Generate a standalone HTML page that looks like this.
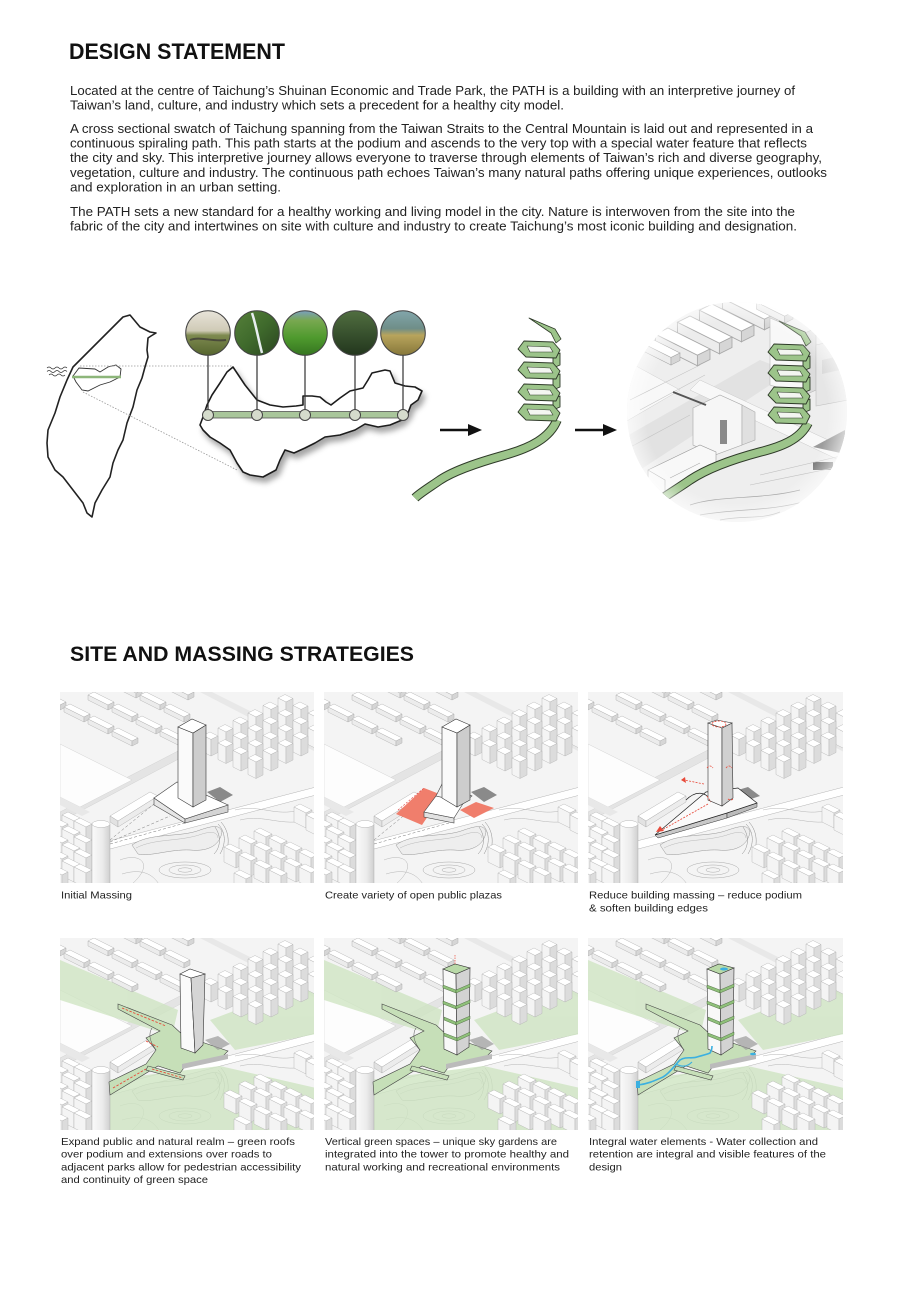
<!DOCTYPE html>
<html><head><meta charset="utf-8"><style>html,body{margin:0;padding:0;background:#fff;}svg{display:block;}</style></head>
<body>
<svg xmlns="http://www.w3.org/2000/svg" width="900" height="1300" viewBox="0 0 900 1300" font-family="'Liberation Sans', Arial, sans-serif">
<defs>
  <filter id="sh" x="-15%" y="-15%" width="140%" height="150%"><feDropShadow dx="3" dy="5" stdDeviation="3" flood-color="#000" flood-opacity=".35"/></filter>
  <linearGradient id="g1" x1="0" y1="0" x2="0" y2="1"><stop offset="0" stop-color="#e8e4da"/><stop offset=".45" stop-color="#cfcab6"/><stop offset=".55" stop-color="#7e8a50"/><stop offset="1" stop-color="#55652e"/></linearGradient>
  <linearGradient id="g2" x1="0" y1="0" x2="1" y2="1"><stop offset="0" stop-color="#56803a"/><stop offset=".5" stop-color="#3f6a2c"/><stop offset="1" stop-color="#2a4420"/></linearGradient>
  <linearGradient id="g3" x1="0" y1="0" x2="0" y2="1"><stop offset="0" stop-color="#7a9fc0"/><stop offset=".22" stop-color="#78a850"/><stop offset=".6" stop-color="#4f9a2e"/><stop offset="1" stop-color="#357520"/></linearGradient>
  <linearGradient id="g4" x1="0" y1="0" x2="0" y2="1"><stop offset="0" stop-color="#506e40"/><stop offset="1" stop-color="#22361d"/></linearGradient>
  <linearGradient id="g5" x1="0" y1="0" x2="0" y2="1"><stop offset="0" stop-color="#82a6ab"/><stop offset=".4" stop-color="#6f8e88"/><stop offset=".55" stop-color="#b8a45c"/><stop offset="1" stop-color="#86773a"/></linearGradient>
  <linearGradient id="cyl" x1="0" y1="0" x2="1" y2="0"><stop offset="0" stop-color="#fafafa"/><stop offset=".6" stop-color="#ebebeb"/><stop offset="1" stop-color="#cfcfcf"/></linearGradient>
  <radialGradient id="fade" cx="737" cy="412" r="111" gradientUnits="userSpaceOnUse"><stop offset=".82" stop-color="#fff" stop-opacity="0"/><stop offset="1" stop-color="#fff" stop-opacity=".6"/></radialGradient>
  <clipPath id="cc"><circle cx="737" cy="412" r="110"/></clipPath>

  <g id="lb" stroke="#a8a8a8" stroke-width=".4">
    <path d="M0,0 L20,10 L14,13 L-6,3Z" fill="#fff"/>
    <path d="M-6,3 L14,13 L14,18 L-6,8Z" fill="#ececec"/>
    <path d="M14,13 L20,10 L20,15 L14,18Z" fill="#d6d6d6"/>
  </g>
  <g id="tb" stroke="#b0b0b0" stroke-width=".4">
    <path d="M0,0 L8,4 L1,7.5 L-7,3.5Z" fill="#fff"/>
    <path d="M-7,3.5 L1,7.5 L1,24 L-7,20Z" fill="#f4f4f4"/>
    <path d="M1,7.5 L8,4 L8,20.5 L1,24Z" fill="#dcdcdc"/>
  </g>
  <g id="mb" stroke="#b0b0b0" stroke-width=".4">
    <path d="M0,0 L12,6 L6,9 L-6,3Z" fill="#fff"/>
    <path d="M-6,3 L6,9 L6,24 L-6,18Z" fill="#f4f4f4"/>
    <path d="M6,9 L12,6 L12,21 L6,24Z" fill="#dcdcdc"/>
  </g>

  <g id="cityBase">
    <rect width="256" height="194" fill="#f4f4f4"/>
    <polygon points="140,0 152,0 256,52 256,60" fill="#e8e8e8"/>
    <polygon points="0,120 120,58 128,62 0,130" fill="#e4e4e4" stroke="#cccccc" stroke-width=".4"/>
    <polygon points="0,52 72,88 20,115 0,105" fill="#fdfdfd" stroke="#d4d4d4" stroke-width=".5"/>
    <polygon points="45,150 256,95 256,103 50,157" fill="#fff" stroke="#b5b5b5" stroke-width=".5"/>
    <polygon points="0,105 30,120 22,124 0,113" fill="#e8e8e8"/>
    <path d="M72,153 C90,140 120,146 140,138 C152,134 160,132 162,140 C160,152 150,160 130,158 C110,157 90,165 78,162 Z" fill="#eeeeee" stroke="#959595" stroke-width=".5"/>
    <path d="M76,156 C95,146 120,150 142,142 C152,139 157,140 158,146" fill="none" stroke="#aaa" stroke-width=".4"/>
    <path d="M158,132 C166,140 166,152 160,162 M161,130 C170,140 170,154 164,165 M155,135 C162,145 160,156 154,162" fill="none" stroke="#8c8c8c" stroke-width=".5"/>
    <ellipse cx="125" cy="178" rx="26" ry="8" fill="none" stroke="#aaa" stroke-width=".5"/>
    <ellipse cx="125" cy="178" rx="16" ry="5" fill="none" stroke="#aaa" stroke-width=".5"/>
    <ellipse cx="125" cy="178" rx="7" ry="2.2" fill="none" stroke="#aaa" stroke-width=".5"/>
    <path d="M60,168 C80,160 95,172 72,192 M175,118 C200,112 215,125 240,118 M180,128 C205,122 220,135 250,128 M62,182 C85,175 95,185 100,194" fill="none" stroke="#b5b5b5" stroke-width=".5"/>
  </g>

  <g id="cityBld">
    <use href="#lb" x="-14" y="0"/><use href="#lb" x="62" y="-12"/><use href="#lb" x="114" y="-10"/>
    <use href="#lb" x="34" y="0"/><use href="#lb" x="86" y="0"/>
    <use href="#lb" x="10" y="12"/><use href="#lb" x="58" y="12"/><use href="#lb" x="110" y="12"/>
    <use href="#lb" x="34" y="24"/><use href="#lb" x="82" y="24"/>
    <use href="#lb" x="58" y="36"/><use href="#lb" x="106" y="36"/>
    <use href="#tb" x="225" y="2.5"/><use href="#tb" x="210" y="10"/><use href="#tb" x="240" y="10"/>
    <use href="#tb" x="195" y="17.5"/><use href="#tb" x="225" y="17.5"/><use href="#tb" x="255" y="17.5"/>
    <use href="#tb" x="180" y="25"/><use href="#tb" x="210" y="25"/><use href="#tb" x="240" y="25"/>
    <use href="#tb" x="165" y="32.5"/><use href="#tb" x="195" y="32.5"/><use href="#tb" x="225" y="32.5"/><use href="#tb" x="255" y="32.5"/>
    <use href="#tb" x="150" y="40"/><use href="#tb" x="180" y="40"/><use href="#tb" x="210" y="40"/><use href="#tb" x="240" y="40"/>
    <use href="#tb" x="165" y="47.5"/><use href="#tb" x="195" y="47.5"/><use href="#tb" x="225" y="47.5"/>
    <use href="#tb" x="180" y="55"/><use href="#tb" x="210" y="55"/><use href="#tb" x="195" y="62.5"/>
    <g stroke="#a5a5a5" stroke-width=".4">
      <path d="M50,124 L90,100 L98,104 L58,129Z" fill="#fff"/>
      <path d="M50,124 L58,129 L58,135 L50,130Z" fill="#e2e2e2"/>
      <path d="M58,129 L98,104 L98,110 L58,135Z" fill="#ececec"/>
    </g>
    <use href="#mb" x="240" y="112"/><use href="#mb" x="252" y="120"/>
    <use href="#mb" x="8" y="120"/><use href="#mb" x="-4" y="126"/><use href="#mb" x="20" y="126"/>
    <use href="#mb" x="8" y="134"/><use href="#mb" x="-4" y="142"/><use href="#mb" x="20" y="142"/>
    <use href="#mb" x="8" y="150"/><use href="#mb" x="-4" y="158"/><use href="#mb" x="20" y="157"/>
    <use href="#mb" x="8" y="166"/><use href="#mb" x="-4" y="174"/><use href="#mb" x="20" y="172"/>
    <rect x="32" y="132" width="18" height="62" fill="url(#cyl)" stroke="#a5a5a5" stroke-width=".4"/>
    <ellipse cx="41" cy="132" rx="9" ry="3.5" fill="#fff" stroke="#a5a5a5" stroke-width=".4"/>
    <use href="#mb" x="200" y="136"/><use href="#mb" x="185" y="143"/><use href="#mb" x="215" y="143"/>
    <use href="#mb" x="230" y="150"/><use href="#mb" x="200" y="150"/><use href="#mb" x="170" y="152"/>
    <use href="#mb" x="245" y="157"/><use href="#mb" x="215" y="158"/><use href="#mb" x="185" y="160"/>
    <use href="#mb" x="230" y="166"/><use href="#mb" x="200" y="168"/><use href="#mb" x="245" y="172"/>
    <use href="#mb" x="215" y="175"/><use href="#mb" x="180" y="178"/>
  </g>

  <g id="greens" fill="#cfe5c3" opacity=".8">
    <polygon points="0,22 118,72 112,98 0,62"/>
    <polygon points="150,82 256,42 256,96 175,112"/>
    <polygon points="45,142 160,128 256,150 256,194 45,194"/>
  </g>

  <g id="star">
    <polygon points="58,66 112,87 124,98 168,113 160,121 127,126 120,135 98,128 50,157 49,144 86,126 96,112 86,100 100,93 58,71" fill="#c6dfb8" stroke="#444" stroke-width=".6"/>
    <polygon points="88,128 125,138 123,142 86,132" fill="#c6dfb8" stroke="#444" stroke-width=".6"/>
    <path d="M96,112 C90,104 88,96 92,90" fill="none" stroke="#555" stroke-width=".6"/>
    <path d="M122,126 L168,116 L168,121 L122,131Z" fill="#bbb"/>
  </g>

  <g id="stackTower">
    <path d="M119,31 L132,36 L133,117 L120,111Z" fill="#f8f8f8" stroke="#333" stroke-width=".6"/>
    <path d="M132,36 L146,30 L145,109 L133,117Z" fill="#d3d3d3" stroke="#333" stroke-width=".6"/>
    <path d="M119,31 L131,26 L146,30 L132,36Z" fill="#b9d9a8" stroke="#333" stroke-width=".6"/>
    <g fill="#8fc07a" stroke="#3d5a30" stroke-width=".4">
      <path d="M119,47 L132,52 L132,55 L119,50Z"/><path d="M132,52 L146,46 L146,49 L132,55Z"/>
      <path d="M119,63 L132,68 L132,71 L119,66Z"/><path d="M132,68 L146,62 L146,65 L132,71Z"/>
      <path d="M120,79 L132,84 L132,87 L120,82Z"/><path d="M132,84 L146,78 L146,81 L132,87Z"/>
      <path d="M120,95 L133,100 L133,103 L120,98Z"/><path d="M133,100 L146,94 L146,97 L133,103Z"/>
    </g>
  </g>

  <g id="spiral" stroke="#2e3a28" stroke-linejoin="round">
    <path d="M529,318 L555,329 L561,339 L556,343 L551,333 Z" fill="#9cc48a" stroke-width=".8"/>
    <g stroke-width=".9">
      <polygon points="553,356 560,353 560,365 553,368" fill="#9cc48a"/>
      <polygon points="553,377 560,374 560,387 553,390" fill="#9cc48a"/>
      <polygon points="553,399 560,396 560,407 553,410" fill="#9cc48a"/>
      <polygon points="524,341 553,342 560,350 556,358 526,357 518,349" fill="#9cc48a"/>
      <polygon points="527,346 550,347 553,352 530,352" fill="#f3f6f1" stroke-width=".6"/>
      <polygon points="524,362 553,363 560,371 556,379 526,378 518,370" fill="#9cc48a"/>
      <polygon points="527,367 550,368 553,373 530,373" fill="#f3f6f1" stroke-width=".6"/>
      <polygon points="524,384 553,385 560,393 556,401 526,400 518,392" fill="#9cc48a"/>
      <polygon points="527,389 550,390 553,395 530,395" fill="#f3f6f1" stroke-width=".6"/>
      <polygon points="524,404 553,405 560,413 556,421 526,420 518,412" fill="#9cc48a"/>
      <polygon points="527,409 550,410 553,415 530,415" fill="#f3f6f1" stroke-width=".6"/>
    </g>
  </g>
</defs>

<!-- ===== DESIGN STATEMENT ===== -->
<text x="69" y="59" font-size="22" font-weight="bold" fill="#111" textLength="216" lengthAdjust="spacingAndGlyphs">DESIGN STATEMENT</text>
<g font-size="13" fill="#222">
  <text x="70" y="95" textLength="725" lengthAdjust="spacingAndGlyphs">Located at the centre of Taichung’s Shuinan Economic and Trade Park, the PATH is a building with an interpretive journey of</text>
  <text x="70" y="109.5" textLength="494" lengthAdjust="spacingAndGlyphs">Taiwan’s land, culture, and industry which sets a precedent for a healthy city model.</text>
  <text x="70" y="133" textLength="743" lengthAdjust="spacingAndGlyphs">A cross sectional swatch of Taichung spanning from the Taiwan Straits to the Central Mountain is laid out and represented in a</text>
  <text x="70" y="147.6" textLength="737" lengthAdjust="spacingAndGlyphs">continuous spiraling path. This path starts at the podium and ascends to the very top with a special water feature that reflects</text>
  <text x="70" y="162.2" textLength="752" lengthAdjust="spacingAndGlyphs">the city and sky. This interpretive journey allows everyone to traverse through elements of Taiwan’s rich and diverse geography,</text>
  <text x="70" y="176.8" textLength="757" lengthAdjust="spacingAndGlyphs">vegetation, culture and industry. The continuous path echoes Taiwan’s many natural paths offering unique experiences, outlooks</text>
  <text x="70" y="191.4" textLength="211" lengthAdjust="spacingAndGlyphs">and exploration in an urban setting.</text>
  <text x="70" y="216" textLength="725" lengthAdjust="spacingAndGlyphs">The PATH sets a new standard for a healthy working and living model in the city. Nature is interwoven from the site into the</text>
  <text x="70" y="230.5" textLength="727" lengthAdjust="spacingAndGlyphs">fabric of the city and intertwines on site with culture and industry to create Taichung’s most iconic building and designation.</text>
</g>

<!-- ===== Taiwan map ===== -->
<path d="M123,317 L130,315 L135,321 L140,327 L150,332 L156,333 L151,336 L148,338 L147,350 L148,357 L145,367 L142,378 L137,390 L133,407 L127,423 L123,440 L118,450 L113,463 L110,477 L102,490 L95,503 L92,517 L87,513 L83,503 L73,490 L63,477 L55,470 L48,457 L47,443 L48,430 L55,413 L60,397 L67,380 L73,367 L83,357 L97,343 L110,330 L118,322 Z" fill="#fff" stroke="#222" stroke-width="1.6" stroke-linejoin="round"/>
<path d="M73,376 L79,368 L95,369 L100,372 L108,367 L116,365 L121,369 L120,377 L110,382 L100,385 L88,391 L82,390 L76,382 Z" fill="none" stroke="#333" stroke-width=".9"/>
<line x1="72" y1="377" x2="121" y2="377" stroke="#8db67a" stroke-width="2.5"/>
<g fill="none" stroke="#333" stroke-width=".7">
  <path d="M47,368 q2,-2 4,0 t4,0 t4,0 t4,0 t4,0"/>
  <path d="M47,371.5 q2,-2 4,0 t4,0 t4,0 t4,0 t4,0"/>
  <path d="M49,375 q2,-2 4,0 t4,0 t4,0 t4,0"/>
</g>
<g stroke="#999" stroke-width=".8" stroke-dasharray="1.5,1.5">
  <line x1="80" y1="366" x2="233" y2="366"/>
  <line x1="83" y1="392" x2="237" y2="470"/>
</g>

<!-- Taichung big shape -->
<path filter="url(#sh)" d="M233,367 L245,385 L257,400 L270,405 L283,407 L296,406 L303,405 L303,396 L312,396 L320,397 L326,402 L331,405 L340,398 L350,391 L363,388 L368,380 L372,373 L385,370 L390,371 L395,383 L405,386 L415,387 L422,391 L418,400 L411,405 L408,413 L402,420 L390,425 L378,427 L365,424 L355,430 L340,435 L325,437 L315,443 L305,448 L294,453 L285,450 L280,460 L276,470 L263,477 L250,475 L243,472 L237,463 L230,450 L220,443 L210,437 L203,430 L200,425 L203,417 L207,405 L212,395 L220,383 L227,372 Z" fill="#fff" stroke="#1e1e1e" stroke-width="1.6" stroke-linejoin="round"/>
<rect x="205" y="411.5" width="200" height="6.5" fill="#a9c69b" stroke="#555" stroke-width=".8"/>
<g stroke="#333" stroke-width="1.2">
  <line x1="208" y1="355" x2="208" y2="410"/><line x1="257" y1="355" x2="257" y2="410"/>
  <line x1="305" y1="355" x2="305" y2="410"/><line x1="355" y1="355" x2="355" y2="410"/>
  <line x1="403" y1="355" x2="403" y2="410"/>
</g>
<g fill="#d5dccc" stroke="#444" stroke-width="1">
  <circle cx="208" cy="415" r="5.5"/><circle cx="257" cy="415" r="5.5"/><circle cx="305" cy="415" r="5.5"/><circle cx="355" cy="415" r="5.5"/><circle cx="403" cy="415" r="5.5"/>
</g>
<g stroke="#444" stroke-width="1">
  <circle cx="208" cy="333" r="22.3" fill="url(#g1)"/>
  <circle cx="257" cy="333" r="22.3" fill="url(#g2)"/>
  <circle cx="305" cy="333" r="22.3" fill="url(#g3)"/>
  <circle cx="355" cy="333" r="22.3" fill="url(#g4)"/>
  <circle cx="403" cy="333" r="22.3" fill="url(#g5)"/>
</g>
<path d="M252,313 C256,325 258,338 262,353" fill="none" stroke="#e8eef0" stroke-width="2.5"/>
<path d="M190,340 C200,336 212,342 226,340" fill="none" stroke="#4a4a3a" stroke-width="2"/>

<!-- arrows -->
<line x1="440" y1="430" x2="470" y2="430" stroke="#111" stroke-width="2.5"/>
<polygon points="468,424 482,430 468,436" fill="#111"/>
<line x1="575" y1="430" x2="605" y2="430" stroke="#111" stroke-width="2.5"/>
<polygon points="603,424 617,430 603,436" fill="#111"/>

<!-- middle spiral -->
<path d="M557,420 C550,438 530,448 505,455 C480,462 455,470 440,480 C430,487 420,493 415,498" fill="none" stroke="#2e3a28" stroke-width="9.5"/>
<path d="M557,420 C550,438 530,448 505,455 C480,462 455,470 440,480 C430,487 420,493 415,498" fill="none" stroke="#9cc48a" stroke-width="7.5"/>
<use href="#spiral"/>

<!-- circle view -->
<g clip-path="url(#cc)">
  <rect x="620" y="295" width="240" height="235" fill="#eeeeee"/>
  <polygon points="620,440 760,360 790,372 640,470" fill="#e2e2e2"/>
  <polygon points="700,380 860,455 860,470 690,390" fill="#f8f8f8" stroke="#c8c8c8" stroke-width=".5"/>
  <polygon points="625,360 680,390 620,425" fill="#f8f8f8" stroke="#cccccc" stroke-width=".5"/>
  <path d="M630,400 L700,365 M640,410 L705,375 M625,450 L690,415" stroke="#c4c4c4" stroke-width=".6"/>
  <use href="#lb" transform="translate(735,292) scale(2.1)"/>
  <use href="#lb" transform="translate(712,304) scale(2.1)"/>
  <use href="#lb" transform="translate(690,316) scale(2.1)"/>
  <use href="#lb" transform="translate(668,328) scale(2.1)"/>
  <use href="#lb" transform="translate(650,338) scale(1.5)"/>
  <use href="#lb" transform="translate(765,298) scale(1.4)"/>
  <path d="M770,318 L805,333 L805,395 L770,385Z" fill="#f8f8f8" stroke="#b8b8b8" stroke-width=".6"/>
  <path d="M805,333 L816,328 L816,390 L805,395Z" fill="#dcdcdc" stroke="#b8b8b8" stroke-width=".6"/>
  <path d="M816,345 L846,338 L848,400 L816,406Z" fill="#e6e6e6" stroke="#c0c0c0" stroke-width=".6"/>
  <path d="M822,360 L840,356 L840,370 L822,374Z" fill="#d6d6d6"/>
  <polygon points="813,447 845,430 845,454" fill="#9c9c9c"/>
  <path d="M693,408 L720,395 L742,405 L742,445 L715,455 L693,445Z" fill="#f6f6f6" stroke="#a8a8a8" stroke-width=".6"/>
  <path d="M742,405 L755,412 L755,440 L742,445Z" fill="#e0e0e0" stroke="#a8a8a8" stroke-width=".6"/>
  <rect x="720" y="420" width="7" height="24" fill="#8a8a8a"/>
  <line x1="673" y1="392" x2="706" y2="405" stroke="#555" stroke-width="2"/>
  <path d="M648,470 L700,445 L716,452 L716,470 L665,495 L648,485Z" fill="#f8f8f8" stroke="#999" stroke-width=".6"/>
  <path d="M648,470 L665,480 L665,495 M670,478 L700,463 M675,485 L705,470" fill="none" stroke="#aaa" stroke-width=".6"/>
  <rect x="813" y="462" width="20" height="8" fill="#777"/>
  <path d="M690,505 C720,495 760,500 800,490 M700,515 C740,508 770,512 810,500 M720,520 C745,515 760,520 780,512" fill="none" stroke="#a5a5a5" stroke-width=".7"/>
  <path d="M760,475 L845,455 M750,485 L848,465" stroke="#c0c0c0" stroke-width=".6"/>
  <path d="M808,423 C800,440 780,447 760,452 C730,460 705,470 690,480 C680,487 670,493 663,498" fill="none" stroke="#2e3a28" stroke-width="9.5"/>
  <path d="M808,423 C800,440 780,447 760,452 C730,460 705,470 690,480 C680,487 670,493 663,498" fill="none" stroke="#9cc48a" stroke-width="7.5"/>
  <use href="#spiral" transform="translate(250,3)"/>
  <circle cx="737" cy="412" r="111" fill="url(#fade)"/>
</g>

<!-- ===== SITE AND MASSING ===== -->
<text x="70" y="661" font-size="21" font-weight="bold" fill="#111" textLength="344" lengthAdjust="spacingAndGlyphs">SITE AND MASSING STRATEGIES</text>

<!-- Panel 1 -->
<svg x="60" y="692" width="254" height="191" viewBox="0 0 254 191">
  <use href="#cityBase"/><use href="#cityBld"/>
  <g stroke="#777" stroke-width=".5" stroke-dasharray="3,2" fill="none">
    <line x1="50" y1="148" x2="94" y2="112"/><line x1="50" y1="152" x2="125" y2="131"/><line x1="50" y1="150" x2="110" y2="124"/>
  </g>
  <polygon points="147,100 160,95 173,103 160,110" fill="#8a8a8a"/>
  <polygon points="94,106 125,127 125,131 94,113" fill="#e6e6e6" stroke="#444" stroke-width=".6"/>
  <polygon points="125,127 168,113 168,120 125,131" fill="#d4d4d4" stroke="#444" stroke-width=".6"/>
  <polygon points="94,106 117,90 168,113 125,127" fill="#fff" stroke="#444" stroke-width=".6"/>
  <polygon points="118,35 133,41 133,115 118,106" fill="#fafafa" stroke="#333" stroke-width=".6"/>
  <polygon points="133,41 146,33 146,108 133,115" fill="#cdcdcd" stroke="#333" stroke-width=".6"/>
  <polygon points="118,35 132,27 146,33 133,41" fill="#fff" stroke="#333" stroke-width=".6"/>
</svg>

<!-- Panel 2 -->
<svg x="324" y="692" width="254" height="191" viewBox="0 0 254 191">
  <use href="#cityBase"/><use href="#cityBld"/>
  <g stroke="#777" stroke-width=".5" stroke-dasharray="3,2" fill="none">
    <line x1="50" y1="148" x2="94" y2="112"/><line x1="50" y1="152" x2="125" y2="131"/>
  </g>
  <polygon points="72,122 100,96 118,103 98,133" fill="#f07e6c"/>
  <polygon points="136,118 152,110 170,116 150,126" fill="#f07e6c"/>
  <line x1="74" y1="118" x2="100" y2="96" stroke="#d33" stroke-width=".6" stroke-dasharray="2,1.5"/>
  <polygon points="147,100 160,95 173,103 160,110" fill="#8a8a8a"/>
  <polygon points="100,120 130,126 130,131 100,125" fill="#e2e2e2" stroke="#444" stroke-width=".6"/>
  <polygon points="100,120 112,104 140,110 130,126" fill="#fff" stroke="#444" stroke-width=".6"/>
  <polygon points="112,104 118,92 148,104 140,110" fill="#f4f4f4" stroke="#444" stroke-width=".6"/>
  <polygon points="118,35 133,41 133,115 118,106" fill="#fafafa" stroke="#333" stroke-width=".6"/>
  <polygon points="133,41 146,33 146,108 133,115" fill="#cdcdcd" stroke="#333" stroke-width=".6"/>
  <polygon points="118,35 132,27 146,33 133,41" fill="#fff" stroke="#333" stroke-width=".6"/>
</svg>

<!-- Panel 3 -->
<svg x="588" y="692" width="255" height="191" viewBox="0 0 255 191">
  <use href="#cityBase"/><use href="#cityBld"/>
  <polygon points="150,98 160,95 172,104 160,108" fill="#8a8a8a"/>
  <polygon points="67,143 139,121 139,126 70,146" fill="#c8c8c8" stroke="#333" stroke-width=".5"/>
  <polygon points="139,121 169,111 169,115 139,126" fill="#bbb" stroke="#333" stroke-width=".5"/>
  <polygon points="67,143 118,100 150,96 169,111 139,121" fill="#fafafa" stroke="#222" stroke-width=".7"/>
  <path d="M98,108 C108,98 118,100 122,108" fill="none" stroke="#222" stroke-width=".8"/>
  <polygon points="120,31 134,36 134,114 120,108" fill="#f6f6f6" stroke="#333" stroke-width=".6"/>
  <polygon points="134,36 144,31 145,106 134,114" fill="#d0d0d0" stroke="#333" stroke-width=".6"/>
  <polygon points="120,31 129,28 144,31 134,36" fill="#fff" stroke="#333" stroke-width=".6"/>
  <g fill="none" stroke="#e84a3a" stroke-width=".8" stroke-dasharray="2,1.3">
    <ellipse cx="131" cy="32" rx="7" ry="3"/>
    <path d="M119,76 q3,-4 6,0 M138,76 q3,-4 6,0 M119,104 q2,3 4,6 M140,107 q3,2 5,0"/>
    <line x1="120" y1="112" x2="74" y2="138"/>
    <line x1="116" y1="92" x2="96" y2="88"/>
  </g>
  <polygon points="72,134 68,140 76,139" fill="#e84a3a"/>
  <polygon points="97,85 93,88 98,91" fill="#e84a3a"/>
</svg>

<!-- Panel 4 -->
<svg x="60" y="938" width="254" height="192" viewBox="0 0 254 192">
  <use href="#cityBase"/><use href="#greens"/><use href="#cityBld"/>
  <use href="#star"/>
  <polygon points="145,102 158,98 170,106 158,112" fill="#9a9a9a" opacity=".7"/>
  <g stroke="#e84a3a" stroke-width=".9" stroke-dasharray="2.5,1.5" fill="none">
    <line x1="62" y1="70" x2="106" y2="88"/><line x1="53" y1="150" x2="86" y2="131"/>
    <line x1="92" y1="131" x2="123" y2="140"/><line x1="86" y1="103" x2="98" y2="109"/>
  </g>
  <polygon points="120,36 131,40 135,115 121,110" fill="#fafafa" stroke="#333" stroke-width=".6"/>
  <polygon points="131,40 145,36 143,107 135,115" fill="#d5d5d5" stroke="#333" stroke-width=".6"/>
  <polygon points="120,36 130,31 145,36 131,40" fill="#fff" stroke="#333" stroke-width=".6"/>
</svg>

<!-- Panel 5 -->
<svg x="324" y="938" width="254" height="192" viewBox="0 0 254 192">
  <use href="#cityBase"/><use href="#greens"/><use href="#cityBld"/>
  <use href="#star"/>
  <polygon points="145,102 158,98 170,106 158,112" fill="#9a9a9a" opacity=".7"/>
  <use href="#stackTower"/>
  <line x1="131" y1="26" x2="131" y2="16" stroke="#e84a3a" stroke-width=".7" stroke-dasharray="1.5,1"/>
</svg>

<!-- Panel 6 -->
<svg x="588" y="938" width="255" height="192" viewBox="0 0 255 192">
  <use href="#cityBase"/><use href="#greens"/><use href="#cityBld"/>
  <use href="#star"/>
  <polygon points="145,102 158,98 170,106 158,112" fill="#9a9a9a" opacity=".7"/>
  <use href="#stackTower"/>
  <path d="M50,147 C60,146 68,142 75,139 C82,135 86,128 92,122 C98,118 104,121 109,119 C116,117 120,116 122,115 C124,112 124,110 124,108" fill="none" stroke="#3bb0e0" stroke-width="1.6"/>
  <path d="M88,126 C95,130 100,128 104,124" fill="none" stroke="#3bb0e0" stroke-width="1.2"/>
  <rect x="48" y="143" width="4" height="7" fill="#3bb0e0"/>
  <ellipse cx="136" cy="31" rx="4" ry="1.5" fill="#3bb0e0"/>
  <ellipse cx="165" cy="116" rx="3" ry="1.2" fill="#3bb0e0"/>
</svg>

<!-- captions -->
<g font-size="10.5" fill="#222">
  <text x="61" y="898.5" textLength="71" lengthAdjust="spacingAndGlyphs">Initial Massing</text>
  <text x="325" y="898.5" textLength="177" lengthAdjust="spacingAndGlyphs">Create variety of open public plazas</text>
  <text x="589" y="898.5" textLength="213" lengthAdjust="spacingAndGlyphs">Reduce building massing – reduce podium</text>
  <text x="589" y="911.5" textLength="119" lengthAdjust="spacingAndGlyphs">&amp; soften building edges</text>

  <text x="61" y="1145" textLength="234" lengthAdjust="spacingAndGlyphs">Expand public and natural realm  – green roofs</text>
  <text x="61" y="1157.7" textLength="211" lengthAdjust="spacingAndGlyphs">over podium and extensions over roads to</text>
  <text x="61" y="1170.4" textLength="240" lengthAdjust="spacingAndGlyphs">adjacent parks allow for pedestrian accessibility</text>
  <text x="61" y="1183" textLength="147" lengthAdjust="spacingAndGlyphs">and continuity of green space</text>

  <text x="325" y="1145" textLength="232" lengthAdjust="spacingAndGlyphs">Vertical green spaces – unique sky gardens are</text>
  <text x="325" y="1157.7" textLength="244" lengthAdjust="spacingAndGlyphs">integrated into the tower to promote healthy and</text>
  <text x="325" y="1170.4" textLength="235" lengthAdjust="spacingAndGlyphs">natural working and recreational environments</text>

  <text x="589" y="1145" textLength="229" lengthAdjust="spacingAndGlyphs">Integral water elements - Water collection and</text>
  <text x="589" y="1157.7" textLength="237" lengthAdjust="spacingAndGlyphs">retention are integral and visible features of the</text>
  <text x="589" y="1170.4" textLength="33" lengthAdjust="spacingAndGlyphs">design</text>
</g>
</svg>
</body></html>
